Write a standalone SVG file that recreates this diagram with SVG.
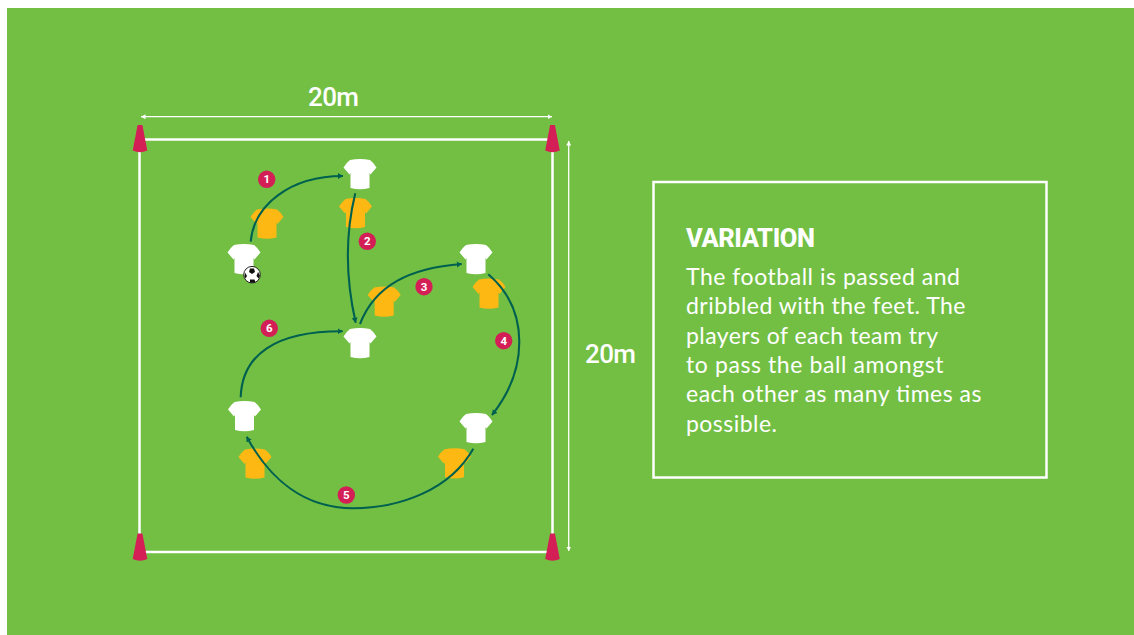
<svg xmlns="http://www.w3.org/2000/svg" xmlns:xlink="http://www.w3.org/1999/xlink" width="1134" height="635" viewBox="0 0 1134 635">
<style>
.line{fill:none;stroke:#fff;stroke-width:2.5}
.dim{fill:none;stroke:#fff;stroke-width:1.3}
.pass{fill:none;stroke:#00604f;stroke-width:2.1;stroke-linecap:butt}
.white{fill:#fff}
.yellow{fill:#fdb813}
.cone{fill:#d31f55}
.badge{fill:#d31f55}
.num{fill:#fff;font:700 11.5px Roboto,sans-serif;text-anchor:middle}
.dimt{fill:#fff;font:500 26px Roboto,sans-serif}
.h{fill:#fff;font:800 25.5px Roboto,sans-serif}
.b{fill:#fff;font:400 23px Lato,sans-serif}
</style>
<defs>
<path id="shirt" d="M-10,-14.5 Q0,-16.5 10,-14.5 Q14,-11.5 16.5,-7 L10.5,0 L9.5,-1.5 L9.5,13.5 Q0,16 -9.5,13.5 L-9.5,-1.5 L-10.5,0 L-16.5,-7 Q-14,-11.5 -10,-14.5 Z"/>
<path id="cone" d="M-2.4,0 L2.4,0 L7.3,25.5 Q0,29 -7.3,25.5 Z"/>
<marker id="ah" markerUnits="userSpaceOnUse" markerWidth="8" markerHeight="8" refX="5" refY="3" orient="auto"><path d="M0,0 L5,3 L0,6 Z" fill="#00604f"/></marker>
<marker id="dh" markerUnits="userSpaceOnUse" markerWidth="6" markerHeight="6" refX="4.5" refY="2.5" orient="auto-start-reverse"><path d="M0,0 L4.5,2.5 L0,5 Z" fill="#fff"/></marker>
</defs>
<rect x="7" y="8" width="1127" height="627" fill="#72bf44"/>
<g id="pitch">
<rect class="line" x="139.5" y="139.5" width="413" height="412.5"/>
<path class="dim" d="M141,116.7 H552" marker-start="url(#dh)" marker-end="url(#dh)"/>
<path class="dim" d="M568.7,141 V551" marker-start="url(#dh)" marker-end="url(#dh)"/>
<text class="dimt" x="308" y="106" textLength="51">20m</text>
<text class="dimt" x="585" y="362.7" textLength="51">20m</text>
</g>
<g id="cones">
<use href="#cone" class="cone" x="140" y="125"/>
<use href="#cone" class="cone" x="552.5" y="125"/>
<use href="#cone" class="cone" x="140" y="533.5"/>
<use href="#cone" class="cone" x="552.5" y="533.5"/>
</g>
<g id="opponents">
<use href="#shirt" class="yellow" x="267" y="224"/>
<use href="#shirt" class="yellow" x="355.5" y="213.5"/>
<use href="#shirt" class="yellow" x="384.2" y="302"/>
<use href="#shirt" class="yellow" x="489" y="294"/>
<use href="#shirt" class="yellow" x="454.5" y="463.7"/>
<use href="#shirt" class="yellow" x="255" y="464"/>
</g>
<g id="players">
<use href="#shirt" class="white" x="360" y="174.5"/>
<use href="#shirt" class="white" x="244" y="259.5"/>
<use href="#shirt" class="white" x="360" y="343.5"/>
<use href="#shirt" class="white" x="476" y="259.5"/>
<use href="#shirt" class="white" x="476" y="428.5"/>
<use href="#shirt" class="white" x="244.5" y="416.5"/>
</g>
<g id="connectors">
<path class="pass" marker-end="url(#ah)" d="M250.7,241.7 C254,205 290,176 343,176"/>
<path class="pass" marker-end="url(#ah)" d="M355.3,193.3 C345,235 346,280 355.7,322.7"/>
<path class="pass" marker-end="url(#ah)" d="M360,324 C375,285 410,268 461.7,264"/>
<path class="pass" marker-end="url(#ah)" d="M488.3,274.3 C530,310 528,370 492,415"/>
<path class="pass" marker-end="url(#ah)" d="M473.3,448.7 C450,490 400,508 353,508.3 C305,508 270,480 246.7,436.7"/>
<path class="pass" marker-end="url(#ah)" d="M240.7,397.3 C242,355 275,331 342.7,331.3"/>
</g>
<g id="ball">
<circle cx="252" cy="274.7" r="8.3" fill="#fff" stroke="#222" stroke-width="1"/>
<path d="M250,268.5 L254,268.5 L255,272 L252,274 L249,272 Z M245,272.5 L247,276 L245.5,278.5 L244.5,276 Z M258,272 L260,275.5 L258.5,278.5 L256.5,276 Z M250,279.5 L254.5,279.5 L255.5,282.5 L250,282.8 Z" fill="#111"/>
</g>
<g id="badges">
<g id="b1"><circle class="badge" cx="266.7" cy="179.3" r="8.7"/><text class="num" x="266.7" y="183.4">1</text></g>
<g id="b2"><circle class="badge" cx="367.3" cy="241.3" r="8.7"/><text class="num" x="367.3" y="245.4">2</text></g>
<g id="b3"><circle class="badge" cx="424" cy="286.7" r="8.7"/><text class="num" x="424" y="290.8">3</text></g>
<g id="b4"><circle class="badge" cx="503.7" cy="340.7" r="8.7"/><text class="num" x="503.7" y="344.8">4</text></g>
<g id="b5"><circle class="badge" cx="346.3" cy="495" r="8.7"/><text class="num" x="346.3" y="499.1">5</text></g>
<g id="b6"><circle class="badge" cx="269.3" cy="328.3" r="8.7"/><text class="num" x="269.3" y="332.4">6</text></g>
</g>
<g id="variation">
<rect class="line" x="653.5" y="182" width="393" height="295.5"/>
<text class="h" x="686" y="247" textLength="129">VARIATION</text>
<text class="b" x="686" y="285" textLength="274">The football is passed and</text>
<text class="b" x="686" y="314.3" textLength="279.5">dribbled with the feet. The</text>
<text class="b" x="686" y="343.6" textLength="252">players of each team try</text>
<text class="b" x="686" y="372.9" textLength="257.5">to pass the ball amongst</text>
<text class="b" x="686" y="402.2" textLength="295.5">each other as many times as</text>
<text class="b" x="686" y="431.5" textLength="91">possible.</text>
</g>
</svg>
